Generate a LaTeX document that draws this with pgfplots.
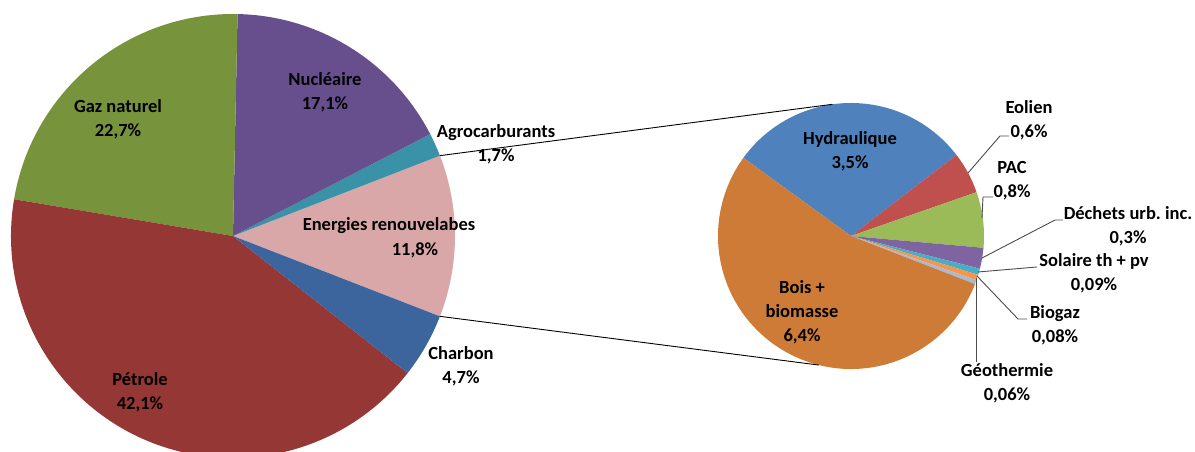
\documentclass[border=0pt]{standalone}
\usepackage{fontspec}
\setmainfont{Carlito}
\usepackage{pgfplots}
\usepackage{pgfplotstable}
\pgfplotsset{compat=1.18}
\usetikzlibrary{calc}
\frenchspacing

\definecolor{renouv}{HTML}{DAA7A8}
\definecolor{agro}{HTML}{3A92A8}
\definecolor{nucl}{HTML}{664F8C}
\definecolor{gaz}{HTML}{77933C}
\definecolor{petrole}{HTML}{953735}
\definecolor{charbon}{HTML}{3C659E}
\definecolor{hydr}{HTML}{4F81BD}
\definecolor{eol}{HTML}{C0504D}
\definecolor{pac}{HTML}{9BBB59}
\definecolor{dech}{HTML}{8064A2}
\definecolor{sol}{HTML}{4BACC6}
\definecolor{biog}{HTML}{F79646}
\definecolor{geo}{HTML}{A9B9D3}
\definecolor{bois}{HTML}{CD7B37}

\tikzset{lbl/.style={font=\fontsize{18.5}{24}\selectfont\bfseries, align=center, text=black, inner sep=0pt}}

% main pie, counter-clockwise from the renewables slice
\pgfplotstableread[col sep=comma]{
value,col
11.8,renouv
1.7,agro
17.1,nucl
22.7,gaz
42.1,petrole
4.7,charbon
}\primaire

% secondary pie (renewables), clockwise from Hydraulique
\pgfplotstableread[col sep=comma]{
value,col
3.5,hydr
0.6,eol
0.8,pac
0.3,dech
0.09,sol
0.08,biog
0.06,geo
6.4,bois
}\secondaire

% #1 table, #2 cx, #3 cy, #4 radius, #5 start angle, #6 direction (1 ccw, -1 cw)
\newcommand\piechart[6]{%
  \pgfplotstablegetrowsof{#1}%
  \pgfmathtruncatemacro\lastrow{\pgfplotsretval-1}%
  \def\pietotal{0}%
  \pgfplotsforeachungrouped \i in {0,...,\lastrow}{%
    \pgfplotstablegetelem{\i}{value}\of{#1}%
    \pgfmathsetmacro\pietotal{\pietotal+\pgfplotsretval}%
  }%
  \def\sliceang{#5}%
  \pgfplotsforeachungrouped \i in {0,...,\lastrow}{%
    \pgfplotstablegetelem{\i}{value}\of{#1}%
    \pgfmathsetmacro\slicedelta{#6*\pgfplotsretval/\pietotal*360}%
    \pgfplotstablegetelem{\i}{col}\of{#1}%
    \let\slicecol\pgfplotsretval
    \edef\slice{\noexpand\fill[\slicecol] (axis cs:#2,#3) -- ++(\sliceang:#4pt)
      arc[start angle=\sliceang, delta angle=\slicedelta, radius=#4pt] -- cycle;}%
    \slice
    \pgfmathsetmacro\sliceang{\sliceang+\slicedelta}%
  }%
}

\begin{document}
\begin{tikzpicture}
\begin{axis}[
    x=1pt, y=1pt,
    xmin=0, xmax=1195,
    ymin=0, ymax=452,
    hide axis,
]
\piechart{\primaire}{233}{216}{222}{-21.22}{1}
\piechart{\secondaire}{851}{216}{133}{144}{-1}

% series lines between the two pies
\draw[black, line width=0.9pt] (axis cs:233,216) ++(21.22:222pt) -- ($(axis cs:851,216)+(98:133pt)$);
\draw[black, line width=0.9pt] (axis cs:233,216) ++(-21.22:222pt) -- ($(axis cs:851,216)+(256:133pt)$);

% leader lines
\draw[black!70, line width=0.9pt] (axis cs:968,279) -- (axis cs:1000,316) -- (axis cs:1009,316);
\draw[black!70, line width=0.9pt] (axis cs:982,234) -- (axis cs:983,255) -- (axis cs:993,255);
\draw[black!70, line width=0.9pt] (axis cs:982,194) -- (axis cs:1055,232) -- (axis cs:1063,232);
\draw[black!70, line width=0.9pt] (axis cs:978,180) -- (axis cs:1037,185);
\draw[black!70, line width=0.9pt] (axis cs:977,176) -- (axis cs:1018,133) -- (axis cs:1027,133);
\draw[black!70, line width=0.9pt] (axis cs:976,174) -- (axis cs:976,90);

% labels, main pie
\node[lbl] at (axis cs:118,333) {Gaz naturel\\22,7\%};
\node[lbl] at (axis cs:325,360) {Nucléaire\\17,1\%};
\node[lbl] at (axis cs:496,307.5) {Agrocarburants\\1,7\%};
\node[lbl] at (axis cs:389,226) {Energies renouvelabes};
\node[lbl] at (axis cs:415,202) {11,8\%};
\node[lbl] at (axis cs:461,85.5) {Charbon\\4,7\%};
\node[lbl] at (axis cs:140,59.5) {Pétrole\\42,1\%};

% labels, secondary pie
\node[lbl] at (axis cs:850,301) {Hydraulique\\3,5\%};
\node[lbl] at (axis cs:802,140) {Bois +\\biomasse\\6,4\%};
\node[lbl] at (axis cs:1029,332) {Eolien\\0,6\%};
\node[lbl] at (axis cs:1012,271.5) {PAC\\0,8\%};
\node[lbl] at (axis cs:1128,225.5) {Déchets urb. inc.\\0,3\%};
\node[lbl] at (axis cs:1094,179) {Solaire th + pv\\0,09\%};
\node[lbl] at (axis cs:1055,127) {Biogaz\\0,08\%};
\node[lbl] at (axis cs:1007,68.5) {Géothermie\\0,06\%};
\end{axis}
\pgfresetboundingbox
\path (current axis.south west) rectangle (current axis.north east);
\end{tikzpicture}
\end{document}
